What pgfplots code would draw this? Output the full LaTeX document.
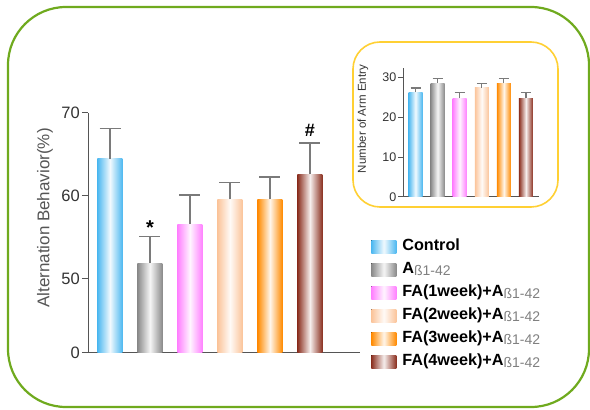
\documentclass[border=0pt]{standalone}
\usepackage{pgfplots}
\pgfplotsset{compat=1.18}
\usepackage{fontspec}
\setmainfont{Liberation Sans}
\definecolor{frameGreen}{HTML}{6FAA1E}
\definecolor{frameYellow}{HTML}{FFD034}
\definecolor{axisgray}{HTML}{555555}
\definecolor{errgray}{HTML}{7A7A7A}
\definecolor{txtgray}{HTML}{333333}
\definecolor{cCtrl}{HTML}{4DB8F0}
\definecolor{cAb}{HTML}{8A8A8A}
\definecolor{cFA1}{HTML}{FF80FF}
\definecolor{cFA2}{HTML}{FBC49A}
\definecolor{cFA3}{HTML}{FF8A00}
\definecolor{cFA4}{HTML}{8B3020}
\newcommand{\sub}{{\normalfont\fontsize{14}{14}\selectfont\color{gray}\raisebox{-1.5pt}{ß1-42}}}
\tikzset{
  barC/.style={draw=none, left color=#1, right color=#1, middle color=#1!8!white},
}
\begin{document}
\begin{tikzpicture}
\useasboundingbox (0pt,0pt) rectangle (590pt,410pt);
\draw[frameGreen, line width=2.2pt, rounded corners=58pt] (8pt,3pt) rectangle (589pt,403pt);
\draw[frameYellow, line width=1.6pt, rounded corners=27pt] (353pt,203pt) rectangle (558pt,368pt);

% main axis
\begin{axis}[
  at={(88pt,57pt)}, anchor=south west, scale only axis,
  width=272pt, height=240pt,
  xmin=-0.55, xmax=6.25, ymin=41.084, ymax=70,
  axis x line=bottom, axis y line=left,
  axis line style={draw=axisgray, line width=1pt, -},
  xtick=\empty,
  ytick={41.084,50,60,70}, yticklabels={0,50,60,70},
  tick align=outside, major tick length=6pt,
  tick style={draw=axisgray, line width=1pt},
  yticklabel style={font=\fontsize{16.5}{18}\selectfont, text=txtgray, inner xsep=2pt},
  ylabel={Alternation Behavior(\%)},
  ylabel style={at={(axis description cs:-0.158,0.5625)}, anchor=center, font=\fontsize{17}{18}\selectfont, text=axisgray},
  ybar, bar width=25pt, bar shift=0pt,
  error bars/error bar style={draw=errgray, line width=1.4pt},
  error bars/error mark options={draw=errgray, line width=1.4pt, mark size=10.5pt, rotate=90},
  legend style={at={(axis description cs:1.03,0.485)}, anchor=north west, draw=none, fill=none,
    font=\fontsize{16.2}{17}\selectfont\bfseries, row sep=7pt,
    nodes={inner xsep=6pt, inner ysep=0pt, text height=12pt, text depth=4pt}},
  legend cell align=left,
  legend image code/.code={\fill[#1] (0pt,-6.5pt) rectangle (25pt,6.5pt);},
]
\addplot[barC=cCtrl, error bars/.cd, y dir=plus, y explicit] coordinates {(0,64.5) +- (0,3.6)};
\addlegendentry{Control}
\addplot[barC=cAb, error bars/.cd, y dir=plus, y explicit] coordinates {(1,51.9) +- (0,3.2)};
\addlegendentry{A\sub}
\addplot[barC=cFA1, error bars/.cd, y dir=plus, y explicit] coordinates {(2,56.6) +- (0,3.5)};
\addlegendentry{FA(1week)+A\sub}
\addplot[barC=cFA2, error bars/.cd, y dir=plus, y explicit] coordinates {(3,59.6) +- (0,2.0)};
\addlegendentry{FA(2week)+A\sub}
\addplot[barC=cFA3, error bars/.cd, y dir=plus, y explicit] coordinates {(4,59.6) +- (0,2.7)};
\addlegendentry{FA(3week)+A\sub}
\addplot[barC=cFA4, error bars/.cd, y dir=plus, y explicit] coordinates {(5,62.6) +- (0,3.8)};
\addlegendentry{FA(4week)+A\sub}
\node[anchor=base, font=\fontsize{20}{20}\selectfont\bfseries] at (axis cs:1,55.4) {*};
\node[anchor=base, font=\fontsize{18}{18}\selectfont\bfseries] at (axis cs:5,67.2) {\#};
\end{axis}

% inset axis
\begin{axis}[
  at={(403pt,213pt)}, anchor=south west, scale only axis,
  width=136pt, height=129.3pt,
  xmin=-0.566, xmax=5.59, ymin=0, ymax=32.5,
  axis x line=bottom, axis y line=left,
  axis line style={draw=axisgray, line width=1pt, -},
  xtick=\empty,
  ytick={0,10,20,30},
  /pgf/number format/assume math mode=true,
  tick align=outside, major tick length=5pt,
  tick style={draw=axisgray, line width=1pt},
  yticklabel style={font=\fontsize{12.5}{13}\selectfont, text=txtgray, inner xsep=1.5pt},
  ylabel={Number of Arm Entry},
  ylabel style={at={(axis description cs:-0.294,0.603)}, anchor=center, font=\fontsize{11.5}{12}\selectfont, text=txtgray},
  ybar, bar width=14pt, bar shift=0pt,
  error bars/error bar style={draw=errgray, line width=1.2pt},
  error bars/error mark options={draw=errgray, line width=1.2pt, mark size=5pt, rotate=90},
]
\addplot[barC=cCtrl, error bars/.cd, y dir=plus, y explicit] coordinates {(0,26.3) +- (0,1.1)};
\addplot[barC=cAb, error bars/.cd, y dir=plus, y explicit] coordinates {(1,28.6) +- (0,1.1)};
\addplot[barC=cFA1, error bars/.cd, y dir=plus, y explicit] coordinates {(2,24.8) +- (0,1.4)};
\addplot[barC=cFA2, error bars/.cd, y dir=plus, y explicit] coordinates {(3,27.4) +- (0,1.1)};
\addplot[barC=cFA3, error bars/.cd, y dir=plus, y explicit] coordinates {(4,28.6) +- (0,1.1)};
\addplot[barC=cFA4, error bars/.cd, y dir=plus, y explicit] coordinates {(5,24.8) +- (0,1.4)};
\end{axis}
\end{tikzpicture}
\end{document}
